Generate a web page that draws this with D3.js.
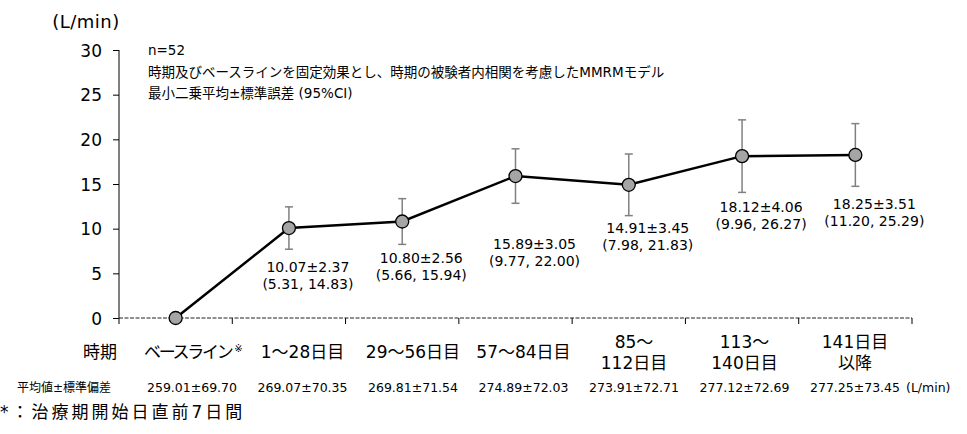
<!DOCTYPE html>
<html>
<head>
<meta charset="utf-8">
<script src="https://cdn.jsdelivr.net/npm/d3@7"></script>
<style>
body { margin:0; background:#fff; }
text { font-family: "DejaVu Sans", "Noto Sans CJK JP", sans-serif; fill:#000; }
</style>
</head>
<body>
<svg width="967" height="434"></svg>
<script>
// data
var categories = ["ベースライン", "1～28日目", "29～56日目", "57～84日目", "85～\n112日目", "113～\n140日目", "141日目\n以降"];
var lsMean = [0, 10.07, 10.80, 15.89, 14.91, 18.12, 18.25];
var stdErr = [0, 2.37, 2.56, 3.05, 3.45, 4.06, 3.51];
var ciLow  = [null, 5.31, 5.66, 9.77, 7.98, 9.96, 11.20];
var ciHigh = [null, 14.83, 15.94, 22.00, 21.83, 26.27, 25.29];
var rawMean = ["259.01", "269.07", "269.81", "274.89", "273.91", "277.12", "277.25"];
var rawSD   = ["69.70", "70.35", "71.54", "72.03", "72.71", "72.69", "73.45"];
var yTicks = [0, 5, 10, 15, 20, 25, 30];
var notes = ["n=52", "時期及びベースラインを固定効果とし、時期の被験者内相関を考慮したMMRMモデル", "最小二乗平均±標準誤差 (95%CI)"];

// label drop below each point (layout only)
var labelDy = [0, 39, 36, 68, 43, 51, 49];

var svg = d3.select("svg");
var mLeft = 119, mRight = 912, mTop = 50, mBottom = 318;

var x = d3.scaleBand().domain(d3.range(categories.length)).range([mLeft, mRight]);
var y = d3.scaleLinear().domain([0, 30]).range([mBottom, mTop]);
// the table under the axis is spaced on its own grid
var tx = d3.scalePoint().domain(d3.range(categories.length)).range([192, 855]);

// y axis
var yAxis = svg.append("g").attr("transform", "translate(" + mLeft + ",0)")
	.call(d3.axisLeft(y).tickValues(yTicks).tickSize(6).tickPadding(11));
yAxis.select(".domain").attr("d", "M0," + mTop + "V" + (mBottom + 6)).attr("stroke", "#000");
yAxis.selectAll(".tick line").attr("stroke", "#000");
yAxis.selectAll("text").style("font-size", "17px").attr("dy", "0.36em");

// x axis (dashed baseline + ticks between categories)
svg.append("line")
	.attr("x1", mLeft).attr("x2", mRight).attr("y1", y(0)).attr("y2", y(0))
	.attr("stroke", "#222").attr("stroke-width", 1).attr("stroke-dasharray", "4,1.5");
svg.selectAll(".xtick").data(d3.range(1, categories.length + 1)).enter().append("line")
	.attr("x1", function(i){ return mLeft + i * x.step(); })
	.attr("x2", function(i){ return mLeft + i * x.step(); })
	.attr("y1", y(0)).attr("y2", y(0) + 6)
	.attr("stroke", "#000");

svg.append("text").attr("x", 86).attr("y", 28).attr("text-anchor", "middle")
	.style("font-size", "18px").style("letter-spacing", "0.5px").text("(L/min)");

// notes
svg.selectAll(".note").data(notes).enter().append("text")
	.attr("x", 148).attr("y", function(d, i){ return 55 + i * 21.5; })
	.style("font-size", "13.5px").text(function(d){ return d; });

function cx(i){ return x(i) + x.bandwidth() / 2; }

// error bars
var eb = svg.selectAll(".eb").data(d3.range(1, categories.length)).enter().append("g")
	.attr("stroke", "#808080").attr("stroke-width", 1.5);
eb.append("line")
	.attr("x1", cx).attr("x2", cx)
	.attr("y1", function(i){ return y(lsMean[i] + stdErr[i]); })
	.attr("y2", function(i){ return y(lsMean[i] - stdErr[i]); });
eb.append("line")
	.attr("x1", function(i){ return cx(i) - 4; }).attr("x2", function(i){ return cx(i) + 4; })
	.attr("y1", function(i){ return y(lsMean[i] + stdErr[i]); })
	.attr("y2", function(i){ return y(lsMean[i] + stdErr[i]); });
eb.append("line")
	.attr("x1", function(i){ return cx(i) - 4; }).attr("x2", function(i){ return cx(i) + 4; })
	.attr("y1", function(i){ return y(lsMean[i] - stdErr[i]); })
	.attr("y2", function(i){ return y(lsMean[i] - stdErr[i]); });

// line
var line = d3.line().x(function(d, i){ return cx(i); }).y(function(d){ return y(d); });
svg.append("path").datum(lsMean).attr("d", line)
	.attr("fill", "none").attr("stroke", "#000").attr("stroke-width", 2.5);

svg.selectAll(".pt").data(lsMean).enter().append("circle")
	.attr("cx", function(d, i){ return cx(i); }).attr("cy", function(d){ return y(d); })
	.attr("r", 6.5).attr("fill", "#a5a5a5").attr("stroke", "#000").attr("stroke-width", 1.3);

// value labels
var lab = svg.selectAll(".lab").data(d3.range(1, categories.length)).enter().append("text")
	.attr("text-anchor", "middle").style("font-size", "14px");
lab.append("tspan")
	.attr("x", function(i){ return cx(i) + 19; })
	.attr("y", function(i){ return y(lsMean[i]) + labelDy[i] + 5; })
	.text(function(i){ return lsMean[i].toFixed(2) + "±" + stdErr[i].toFixed(2); });
lab.append("tspan")
	.attr("x", function(i){ return cx(i) + 19; })
	.attr("y", function(i){ return y(lsMean[i]) + labelDy[i] + 22; })
	.text(function(i){ return "(" + ciLow[i].toFixed(2) + ", " + ciHigh[i].toFixed(2) + ")"; });

// category labels
svg.append("text").attr("x", 100).attr("y", 358).attr("text-anchor", "middle")
	.style("font-size", "17px").text("時期");
var cat = svg.selectAll(".cat").data(categories).enter().append("text")
	.attr("text-anchor", "middle").style("font-size", "17px");
cat.each(function(d, i){
	var lines = d.split("\n");
	var t = d3.select(this);
	if(i == 0){
		t.attr("text-anchor", "start");
		t.append("tspan").attr("x", 144).attr("y", 358).style("letter-spacing", "-2.3px").text(d);
		t.append("tspan").attr("dx", 3).attr("dy", -6).style("font-size", "10px").text("※");
		return;
	}
	lines.forEach(function(s, k){
		var ty = lines.length == 1 ? 358 : 348 + k * 20.5;
		t.append("tspan").attr("x", tx(i)).attr("y", ty).text(s);
	});
});

// raw mean row
svg.append("text").attr("x", 64).attr("y", 392).attr("text-anchor", "middle")
	.style("font-size", "12px").text("平均値±標準偏差");
svg.selectAll(".raw").data(rawMean).enter().append("text")
	.attr("x", function(d, i){ return tx(i); }).attr("y", 392)
	.attr("text-anchor", "middle").style("font-size", "12.5px")
	.text(function(d, i){ return d + "±" + rawSD[i]; });
svg.append("text").attr("x", 906).attr("y", 392)
	.style("font-size", "12.5px").text("(L/min)");

// footnote
svg.append("text").attr("x", 0).attr("y", 418)
	.style("font-size", "17px").style("letter-spacing", "3px").text("*：治療期開始日直前7日間");
</script>
</body>
</html>
